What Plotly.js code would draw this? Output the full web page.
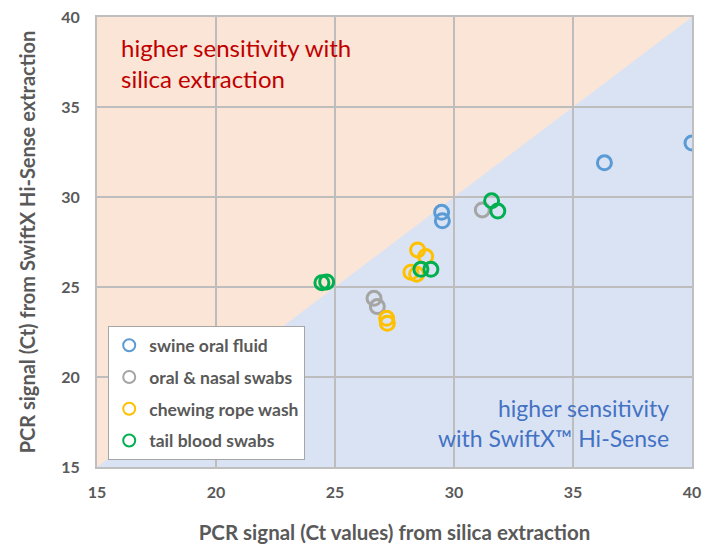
<!DOCTYPE html>
<html>
<head>
<meta charset="utf-8">
<script src="https://cdn.plot.ly/plotly-3.0.1.min.js"></script>
<style>html,body{margin:0;padding:0;background:#fff;}#chart{width:712px;height:544px;}</style>
</head>
<body>
<div id="chart"></div>
<script>
// Data (Ct values: silica extraction vs SwiftX Hi-Sense)
const seriesNames = ["swine oral fluid", "oral & nasal swabs", "chewing rope wash", "tail blood swabs"];
const seriesColors = ["#5B9BD5", "#A5A5A5", "#FFC000", "#00B050"];

const oralFluidX = [29.48, 29.51, 36.32, 40.0];
const oralFluidY = [29.15, 28.68, 31.9, 33.0];

const nasalSwabX = [31.19, 26.64, 26.78];
const nasalSwabY = [29.28, 24.37, 23.91];

const ropeWashX = [28.47, 28.81, 28.19, 28.43, 27.17, 27.2];
const ropeWashY = [27.06, 26.69, 25.82, 25.71, 23.26, 22.98];

const bloodSwabX = [24.45, 24.65, 28.61, 29.03, 31.58, 31.84];
const bloodSwabY = [25.24, 25.28, 25.98, 25.98, 29.79, 29.22];

const axisMin = 15, axisMax = 40;
const tickVals = [15, 20, 25, 30, 35, 40];

const xs = [oralFluidX, nasalSwabX, ropeWashX, bloodSwabX];
const ys = [oralFluidY, nasalSwabY, ropeWashY, bloodSwabY];

const FONT = "Lato, 'Open Sans', sans-serif";
const GRAY = "#595959";

const traces = seriesNames.map((name, i) => ({
  type: "scatter",
  mode: "markers",
  name: name,
  x: xs[i],
  y: ys[i],
  legendgroup: "g" + i,
  marker: {symbol: "circle-open", size: 14, color: seriesColors[i], line: {width: 3, color: seriesColors[i]}},
  hoverinfo: "x+y+name"
}));

const layout = {
  width: 712, height: 544,
  margin: {l: 97, r: 20, t: 17, b: 77},
  paper_bgcolor: "#ffffff",
  plot_bgcolor: "#FBE5D6",
  font: {family: FONT, color: GRAY},
  showlegend: true,
  legend: {
    x: 0.0185, y: 0.313, xanchor: "left", yanchor: "top",
    bgcolor: "#ffffff", bordercolor: "#A6A6A6", borderwidth: 1.2,
    font: {family: FONT, size: 17.5, color: GRAY, weight: "bold"},
    tracegroupgap: 6,
    itemsizing: "constant"
  },
  xaxis: {
    range: [axisMin, axisMax], tickvals: tickVals, ticktext: tickVals.map(String),
    showgrid: true, gridcolor: "#BDBDBD", gridwidth: 1.5,
    showline: true, linecolor: "#BFBFBF", linewidth: 2, mirror: true,
    zeroline: false, ticks: "", ticklabelstandoff: 10,
    tickfont: {family: FONT, size: 16, color: GRAY, weight: "bold"},
    title: {text: "PCR signal (Ct values) from silica extraction", standoff: 25,
            font: {family: FONT, size: 20.5, color: GRAY, weight: "bold"}}
  },
  yaxis: {
    range: [axisMin, axisMax], tickvals: tickVals, ticktext: tickVals.map(String),
    showgrid: true, gridcolor: "#BDBDBD", gridwidth: 1.5,
    showline: true, linecolor: "#BFBFBF", linewidth: 2, mirror: true,
    zeroline: false, ticks: "", ticklabelstandoff: 12,
    tickfont: {family: FONT, size: 16, color: GRAY, weight: "bold"},
    title: {text: "PCR signal (Ct) from SwiftX Hi-Sense extraction", standoff: 20,
            font: {family: FONT, size: 20, color: GRAY, weight: "bold"}}
  },
  shapes: [{
    type: "path", xref: "x", yref: "y", layer: "below",
    path: `M ${axisMin} ${axisMin} L ${axisMax} ${axisMax} L ${axisMax} ${axisMin} Z`,
    fillcolor: "#DAE3F3", line: {width: 0}
  }],
  annotations: [
    {xref: "paper", yref: "paper", x: 0.037, y: 0.968, xanchor: "left", yanchor: "top", align: "left",
     text: "higher sensitivity with<br>silica extraction", showarrow: false,
     font: {family: FONT, size: 24, color: "#C00000"}},
    {xref: "paper", yref: "paper", x: 0.965, y: 0.167, xanchor: "right", yanchor: "top", align: "right",
     text: "higher sensitivity<br>with SwiftX™ Hi-Sense", showarrow: false,
     font: {family: FONT, size: 23, color: "#4472C4"}}
  ]
};

Plotly.newPlot("chart", traces, layout, {displayModeBar: false, staticPlot: true});
</script>
</body>
</html>
